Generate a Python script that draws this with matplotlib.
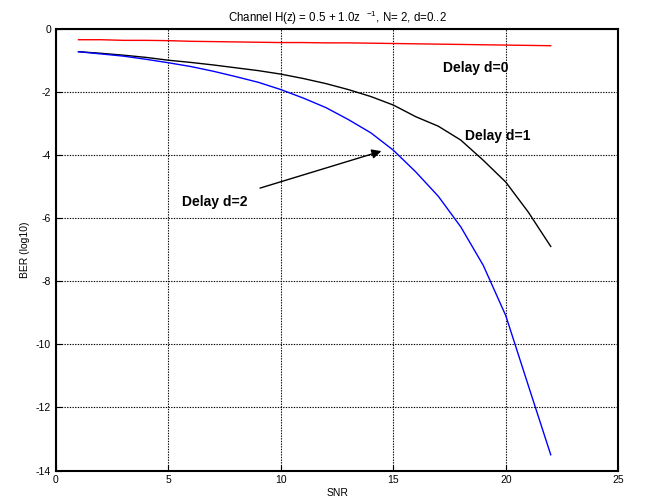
import matplotlib
matplotlib.use("Agg")
import matplotlib.pyplot as plt

plt.rcParams['font.family'] = ['Liberation Sans', 'DejaVu Sans']
plt.rcParams['axes.unicode_minus'] = False
plt.rcParams['mathtext.default'] = 'regular'

snr = list(range(1, 23))
ber_d0 = [-0.35, -0.35, -0.37, -0.37, -0.38, -0.40, -0.41, -0.42, -0.43, -0.44, -0.44,
          -0.45, -0.45, -0.46, -0.47, -0.48, -0.49, -0.50, -0.51, -0.52, -0.53, -0.54]
ber_d1 = [-0.73, -0.78, -0.84, -0.91, -1.00, -1.07, -1.15, -1.24, -1.33, -1.44, -1.58,
          -1.74, -1.93, -2.15, -2.42, -2.79, -3.09, -3.53, -4.17, -4.86, -5.81, -6.90]
ber_d2 = [-0.73, -0.80, -0.87, -0.97, -1.08, -1.20, -1.35, -1.52, -1.70, -1.93, -2.20,
          -2.50, -2.88, -3.30, -3.85, -4.54, -5.31, -6.28, -7.50, -9.09, -11.30, -13.50]
xticks = [0, 5, 10, 15, 20, 25]
yticks = [-14, -12, -10, -8, -6, -4, -2, 0]

fig = plt.figure(figsize=(6.48, 5.03), dpi=100)
ax = fig.add_axes([0.0864, 0.0646, 0.8676, 0.8784])

ax.plot(snr, ber_d0, color='red', lw=1.0)
ax.plot(snr, ber_d1, color='black', lw=1.0)
ax.plot(snr, ber_d2, color='blue', lw=1.0)

ax.set_xlim(0, 25)
ax.set_ylim(-14, 0)
ax.set_xticks(xticks)
ax.set_yticks(yticks)
ax.tick_params(direction='in', labelsize=7.5, length=4, width=0.8)
ax.grid(True, color='black', linestyle=(0, (1.2, 1.2)), linewidth=0.8)
for s in ax.spines.values():
    s.set_linewidth(1.5)

ax.set_xlabel('SNR', fontsize=7.5, labelpad=2)
ax.set_ylabel('BER (log10)', fontsize=7.5, labelpad=4)
ax.set_title('Channel H(z) = 0.5 + 1.0z  $^{-1}$, N= 2, d=0..2', fontsize=8.3, pad=5)

ax.text(17.2, -1.25, 'Delay d=0', fontsize=10, fontweight='bold', ha='left', va='center')
ax.text(18.2, -3.4, 'Delay d=1', fontsize=10, fontweight='bold', ha='left', va='center')
ax.annotate('Delay d=2', xy=(14.47, -3.88), xytext=(5.6, -5.49),
            fontsize=10, fontweight='bold', ha='left', va='center',
            arrowprops=dict(arrowstyle='-|>', color='black', lw=1.0,
                            shrinkA=10, shrinkB=0, mutation_scale=14))

fig.savefig('out.png', dpi=100)
